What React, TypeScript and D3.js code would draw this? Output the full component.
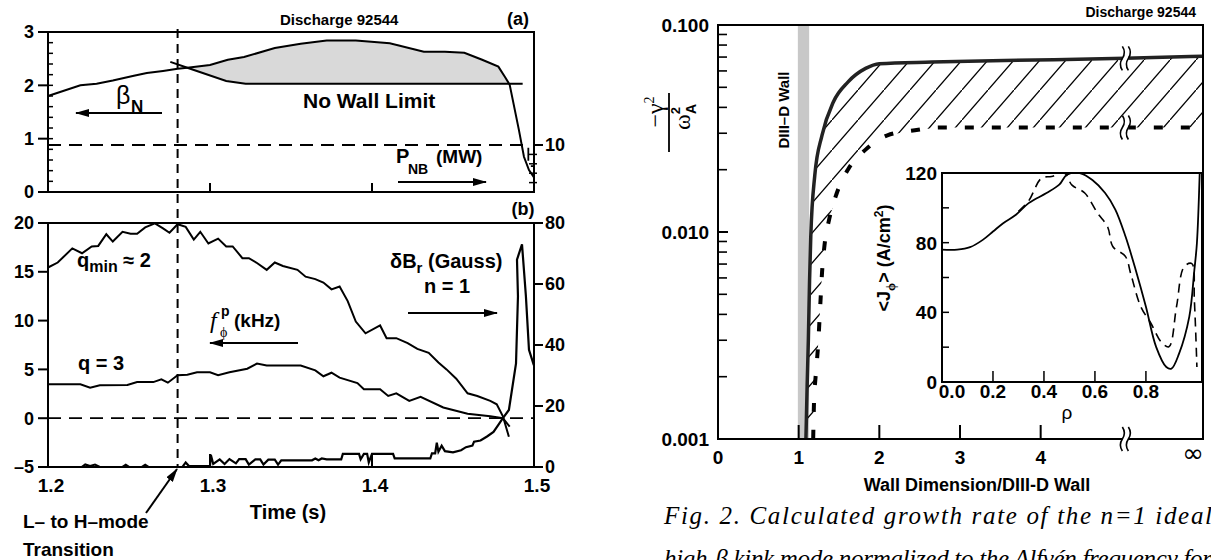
import React from "react";
import * as d3 from "d3";

const FONT = "'Liberation Sans Narrow', 'Arial Narrow', 'Liberation Sans', Arial, sans-serif";
const SERIF = "'Liberation Serif', 'Times New Roman', serif";

// ---------- left figure: discharge 92544 time traces ----------
const TIME_TICKS = [1.2, 1.3, 1.4, 1.5];
const BETA_TICKS = [0, 1, 2, 3];
const BETA_MINOR = d3.range(0, 3.01, 0.2);
const PNB_MINOR = [2, 4, 6, 8];
const F_TICKS = [-5, 0, 5, 10, 15, 20];
const DB_TICKS = [0, 20, 40, 60, 80];
const TRANSITION_T = 1.28;

const betaN: [number, number][] = [
  [1.2, 1.8], [1.22, 2.0], [1.23, 2.03], [1.24, 2.09], [1.253, 2.18], [1.261, 2.23],
  [1.271, 2.27], [1.28, 2.31], [1.286, 2.33], [1.3, 2.38], [1.311, 2.48], [1.321, 2.53],
  [1.34, 2.7], [1.356, 2.78], [1.372, 2.84], [1.39, 2.84], [1.411, 2.79], [1.432, 2.63],
  [1.445, 2.63], [1.457, 2.61], [1.468, 2.48], [1.478, 2.35], [1.482, 2.16], [1.485, 2.01],
  [1.4907, 1.16], [1.4938, 0.66], [1.4969, 0.41], [1.4999, 0.28],
];
const noWallLimit: [number, number][] = [
  [1.2755, 2.44], [1.286, 2.33], [1.31, 2.08], [1.322, 2.03], [1.493, 2.03],
];
const pnb: [number, number][] = [
  [1.2, 10], [1.4965, 10], [1.4965, 5.5], [1.5, 5.5],
];
const fPhi: [number, number][] = [
  [1.2, 15.44], [1.206, 15.95], [1.215, 17.4], [1.221, 16.9], [1.227, 17.6], [1.231, 17.65],
  [1.236, 18.85], [1.24, 18.1], [1.246, 19.1], [1.251, 18.9], [1.255, 18.9], [1.26, 19.55],
  [1.266, 19.97], [1.271, 19.45], [1.275, 19.0], [1.28, 19.87], [1.285, 19.6], [1.29, 18.3],
  [1.294, 19.1], [1.299, 17.9], [1.305, 18.4], [1.31, 17.6], [1.314, 17.6], [1.32, 16.4],
  [1.324, 16.4], [1.329, 15.9], [1.335, 15.2], [1.34, 15.95], [1.345, 15.6], [1.354, 15.2],
  [1.359, 14.5], [1.365, 14.25], [1.37, 13.9], [1.375, 13.2], [1.38, 13.5], [1.385, 12.0],
  [1.39, 9.9], [1.396, 8.7], [1.405, 9.5], [1.409, 8.2], [1.415, 8.2], [1.422, 7.7],
  [1.428, 7.1], [1.435, 6.7], [1.441, 5.7], [1.446, 5.0], [1.452, 4.05], [1.459, 2.55],
  [1.465, 2.28], [1.473, 1.77], [1.477, 1.43], [1.4808, 0.2], [1.4845, -1.9],
];
const qThree: [number, number][] = [
  [1.2, 3.47], [1.22, 3.47], [1.226, 3.13], [1.232, 3.37], [1.249, 3.4], [1.255, 3.7],
  [1.265, 3.7], [1.27, 3.98], [1.274, 3.64], [1.28, 4.4], [1.286, 4.46], [1.292, 4.7],
  [1.3, 4.7], [1.305, 4.4], [1.312, 4.7], [1.323, 5.07], [1.329, 5.6], [1.335, 5.4],
  [1.356, 5.4], [1.365, 4.9], [1.37, 4.3], [1.375, 4.66], [1.38, 4.15], [1.391, 3.6],
  [1.395, 2.96], [1.405, 2.96], [1.41, 2.28], [1.415, 2.55], [1.423, 1.77], [1.43, 2.2],
  [1.444, 1.1], [1.459, 0.45], [1.473, 0.2], [1.4808, 0.0], [1.485, -0.87],
];
const deltaBr: [number, number][] = [
  [1.2, 0], [1.221, 0], [1.223, 0.8], [1.226, 0.3], [1.229, 0.8], [1.232, 0], [1.246, 0],
  [1.248, 0.7], [1.25, 0], [1.258, 0], [1.26, 0.7], [1.262, 0], [1.283, 0], [1.285, 1.5],
  [1.287, 0.3], [1.3, 0.3], [1.3005, 4], [1.302, 1], [1.306, 2.5], [1.309, 1], [1.312, 2.6],
  [1.316, 1.2], [1.318, 2.6], [1.322, 2.6], [1.324, 0.8], [1.328, 2.5], [1.331, 2.5],
  [1.333, 0.8], [1.336, 2.4], [1.34, 2.4], [1.342, 0.8], [1.344, 2.2], [1.363, 2.2],
  [1.365, 2.8], [1.367, 2.2], [1.369, 2.8], [1.372, 2.5], [1.381, 2.5], [1.382, 4.3],
  [1.392, 4.3], [1.393, 2.5], [1.395, 4.3], [1.397, 4.3], [1.398, 1.5], [1.4, 4.3],
  [1.413, 4.3], [1.414, 2.8], [1.436, 2.8], [1.437, 4.5], [1.439, 4.5], [1.44, 8],
  [1.441, 5], [1.443, 7], [1.445, 5.2], [1.45, 4.8], [1.455, 5.5], [1.458, 6.5],
  [1.462, 7], [1.463, 8.3], [1.467, 8.7], [1.471, 10], [1.475, 11.5], [1.478, 13.8],
  [1.4808, 16], [1.4845, 18.7], [1.4889, 34], [1.4901, 56], [1.4895, 68], [1.4926, 73],
  [1.495, 56], [1.4969, 38.4], [1.4999, 33.4],
];

// ---------- right figure: growth rate vs wall position ----------
const WALL_TICKS = [0, 1, 2, 3, 4];
const WALL_INF = 6;
const WALL_BREAK = 5.05;
const GAMMA_TICKS = [0.001, 0.01, 0.1];
const GAMMA_LABELS = ["0.001", "0.010", "0.100"];
const DIIID_WALL = [0.99, 1.13];

const idealWall: [number, number][] = [
  [1.09, 0.001], [1.105, 0.0018], [1.12, 0.003], [1.135, 0.0058], [1.15, 0.0095],
  [1.2, 0.0188], [1.29, 0.0294], [1.43, 0.0425], [1.61, 0.053], [1.83, 0.0617],
  [2.0, 0.065], [2.65, 0.0662], [3.55, 0.0674], [5.05, 0.069], [6, 0.0707],
];
const noWall: [number, number][] = [
  [1.18, 0.001], [1.19, 0.0015], [1.21, 0.002], [1.24, 0.0028], [1.27, 0.0046],
  [1.29, 0.0064], [1.32, 0.0086], [1.38, 0.0116], [1.47, 0.0153], [1.61, 0.02],
  [1.83, 0.025], [2.1, 0.0293], [2.44, 0.031], [2.74, 0.032], [3.5, 0.032],
  [5.05, 0.032], [6, 0.032],
];

// inset: current density profile
const RHO_TICKS = [0, 0.2, 0.4, 0.6, 0.8];
const RHO_LABELS = ["0.0", "0.2", "0.4", "0.6", "0.8"];
const J_TICKS = [0, 40, 80, 120];
const J_MINOR = [20, 60, 100];
const jSolid: [number, number][] = [
  [0, 76], [0.06, 76], [0.11, 77.4], [0.16, 81.6], [0.2, 86.4], [0.24, 91.2], [0.29, 96],
  [0.34, 102.7], [0.41, 108.5], [0.46, 113.3], [0.49, 119], [0.54, 120], [0.59, 116],
  [0.64, 108.5], [0.68, 99], [0.72, 83.5], [0.76, 64.3], [0.8, 43.2], [0.84, 20.2],
  [0.88, 8.6], [0.9, 7.7], [0.93, 16.3], [0.97, 37.4], [0.99, 64.3], [1.0, 79.7], [1.012, 125],
];
const jDashed: [number, number][] = [
  [0.3, 98], [0.34, 104], [0.39, 117], [0.43, 118], [0.48, 120], [0.51, 113], [0.56, 108.5],
  [0.61, 97], [0.65, 89], [0.67, 77.8], [0.72, 72], [0.74, 62.4], [0.78, 43.2], [0.82, 33.6],
  [0.86, 23], [0.89, 20.2], [0.92, 43.2], [0.95, 66.2], [0.98, 68], [0.99, 47], [1.0, 8.6],
];

const xT = d3.scaleLinear().domain([1.2, 1.5]).range([48, 534]);
const yB = d3.scaleLinear().domain([0, 3]).range([192, 32]);
const yP = d3.scaleLinear().domain([0, 10]).range([192, 145]);
const yF = d3.scaleLinear().domain([-5, 20]).range([467, 223]);
const yD = d3.scaleLinear().domain([0, 80]).range([467, 223]);

const xW = d3.scaleLinear().domain([0, WALL_INF]).range([718, 1202]);
const yG = d3.scaleLog().domain([0.001, 0.1]).range([439, 25]);
const xR = d3.scaleLinear().domain([0, 1.02]).range([942, 1202]);
const yJ = d3.scaleLinear().domain([0, 120]).range([382, 173]);

function Break({ x, y }: { x: number; y: number }) {
  return (
    <g>
      <rect x={x - 3} y={y - 12} width={6} height={24} fill="#fff" />
      <path d={`M${x - 3},${y - 12} q4,6 0,12 q-4,6 0,12 M${x + 3},${y - 12} q4,6 0,12 q-4,6 0,12`} fill="none" stroke="#000" strokeWidth={1.6} />
    </g>
  );
}

export default function App() {
  const lineB = d3.line<[number, number]>().x((d) => xT(d[0])).y((d) => yB(d[1]));
  const lineP = d3.line<[number, number]>().x((d) => xT(d[0])).y((d) => yP(d[1]));
  const lineF = d3.line<[number, number]>().x((d) => xT(d[0])).y((d) => yF(d[1]));
  const lineD = d3.line<[number, number]>().x((d) => xT(d[0])).y((d) => yD(d[1]));
  const limitAt = d3.scaleLinear().domain(noWallLimit.map((d) => d[0])).range(noWallLimit.map((d) => d[1])).clamp(true);
  const shaded = betaN.filter((d) => d[0] >= 1.286 && d[0] <= 1.485);
  const areaB = d3.area<[number, number]>().x((d) => xT(d[0])).y1((d) => yB(d[1])).y0((d) => yB(limitAt(d[0])));

  const lineG = d3.line<[number, number]>().x((d) => xW(d[0])).y((d) => yG(d[1])).curve(d3.curveMonotoneX);
  const lineGlin = d3.line<[number, number]>().x((d) => xW(d[0])).y((d) => yG(d[1]));
  const hatchRegion = lineGlin(idealWall) + lineGlin(noWall.slice().reverse())!.replace(/^M/, "L") + "Z";
  const lineJ = d3.line<[number, number]>().x((d) => xR(d[0])).y((d) => yJ(d[1])).curve(d3.curveCatmullRom);

  const decadesMinor: number[] = [];
  [0.001, 0.01].forEach((dec) => d3.range(2, 10).forEach((m) => decadesMinor.push(dec * m)));

  const txt = { fontFamily: FONT, fontWeight: 700 as const, fill: "#000" };

  return (
    <svg width={1211} height={560} style={{ position: "absolute", left: 0, top: 0, background: "#fff" }}>
      <defs>
        <marker id="arr" viewBox="0 0 14 8" refX={13} refY={4} markerWidth={14} markerHeight={8} orient="auto" markerUnits="userSpaceOnUse">
          <path d="M0,0 L14,4 L0,8 Z" fill="#000" />
        </marker>
        <pattern id="hatch" patternUnits="userSpaceOnUse" width={26} height={30}>
          <path d="M-2,32.3 L28,-2.3" stroke="#000" strokeWidth={1.3} />
        </pattern>
        <clipPath id="plotR"><rect x={718} y={25} width={485} height={414} /></clipPath>
        <clipPath id="inset"><rect x={942} y={173} width={260} height={209} /></clipPath>
      </defs>

      {/* ===== panel (a) ===== */}
      <path d={areaB(shaded)!} fill="#d9d9d9" />
      <path d={lineB(noWallLimit)!} fill="none" stroke="#000" strokeWidth={2} />
      <path d={lineB(betaN)!} fill="none" stroke="#000" strokeWidth={2} />
      <path d={lineP(pnb)!} fill="none" stroke="#000" strokeWidth={1.8} strokeDasharray="13,8" />
      <rect x={48} y={32} width={486} height={160} fill="none" stroke="#000" strokeWidth={2} />
      {BETA_TICKS.map((v) => (
        <g key={"b" + v}>
          <line x1={38} x2={48} y1={yB(v)} y2={yB(v)} stroke="#000" strokeWidth={2} />
          <text x={34} y={yB(v)} dy="0.36em" textAnchor="end" fontSize={18} {...txt}>{v}</text>
        </g>
      ))}
      {BETA_MINOR.map((v) => (
        <line key={"bm" + v} x1={48} x2={53} y1={yB(v)} y2={yB(v)} stroke="#000" strokeWidth={1.5} />
      ))}
      {TIME_TICKS.slice(1, 3).map((v) => (
        <line key={"ta" + v} x1={xT(v)} x2={xT(v)} y1={192} y2={183} stroke="#000" strokeWidth={2} />
      ))}
      <line x1={534} x2={543} y1={yP(10)} y2={yP(10)} stroke="#000" strokeWidth={2} />
      {PNB_MINOR.map((v) => (
        <line key={"pm" + v} x1={529} x2={537} y1={yP(v)} y2={yP(v)} stroke="#000" strokeWidth={1.5} />
      ))}
      <text x={545} y={yP(10)} dy="0.36em" fontSize={18} {...txt}>10</text>
      <text x={280} y={25} fontSize={15} {...txt}>Discharge 92544</text>
      <text x={518} y={25} textAnchor="middle" fontSize={18} {...txt}>(a)</text>
      <text x={116} y={104} fontSize={25} fontFamily="'Liberation Sans', Arial, sans-serif" fill="#000">β</text>
      <text x={131} y={112} fontSize={17} {...txt}>N</text>
      <line x1={162} x2={76} y1={113} y2={113} stroke="#000" strokeWidth={2} markerEnd="url(#arr)" />
      <text x={303} y={108} fontSize={21} {...txt}>No Wall Limit</text>
      <text x={396} y={163} fontSize={20} {...txt}>P</text>
      <text x={408} y={174} fontSize={14} {...txt}>NB</text>
      <text x={436} y={163} fontSize={19} {...txt}>(MW)</text>
      <line x1={398} x2={486} y1={182} y2={182} stroke="#000" strokeWidth={2} markerEnd="url(#arr)" />

      {/* ===== panel (b) ===== */}
      <line x1={48} x2={534} y1={yF(0)} y2={yF(0)} stroke="#000" strokeWidth={1.8} strokeDasharray="13,8" />
      <path d={lineF(fPhi)!} fill="none" stroke="#000" strokeWidth={2} />
      <path d={lineF(qThree)!} fill="none" stroke="#000" strokeWidth={2} />
      <path d={lineD(deltaBr)!} fill="none" stroke="#000" strokeWidth={2.2} />
      <rect x={48} y={223} width={486} height={244} fill="none" stroke="#000" strokeWidth={2} />
      {F_TICKS.map((v) => (
        <g key={"f" + v}>
          <line x1={38} x2={48} y1={yF(v)} y2={yF(v)} stroke="#000" strokeWidth={2} />
          <text x={34} y={yF(v)} dy="0.36em" textAnchor="end" fontSize={18} {...txt}>{v < 0 ? "–" + Math.abs(v) : v}</text>
        </g>
      ))}
      {DB_TICKS.map((v) => (
        <g key={"d" + v}>
          <line x1={534} x2={543} y1={yD(v)} y2={yD(v)} stroke="#000" strokeWidth={2} />
          <text x={545} y={yD(v)} dy="0.36em" fontSize={18} {...txt}>{v}</text>
        </g>
      ))}
      {TIME_TICKS.map((v) => (
        <g key={"t" + v}>
          <line x1={xT(v)} x2={xT(v)} y1={467} y2={454} stroke="#000" strokeWidth={2} />
          <text x={xT(v) + 3} y={492} textAnchor="middle" fontSize={19} {...txt}>{v.toFixed(1)}</text>
        </g>
      ))}
      <line x1={xT(TRANSITION_T)} x2={xT(TRANSITION_T)} y1={29} y2={467} stroke="#000" strokeWidth={2} strokeDasharray="9,6" />
      <text x={523} y={215} textAnchor="middle" fontSize={18} {...txt}>(b)</text>
      <text x={77} y={267} fontSize={20} {...txt}>q<tspan dy={5} fontSize={16}>min</tspan><tspan dy={-5} fontSize={20}> ≈ 2</tspan></text>
      <text x={78} y={370} fontSize={20} {...txt}>q = 3</text>
      <text x={210} y={328} fontSize={24} fontFamily={SERIF} fontStyle="italic" fill="#000">f</text>
      <text x={221} y={316} fontSize={14} {...txt}>p</text>
      <text x={220} y={337} fontSize={14} fontFamily={SERIF} fill="#000">ϕ</text>
      <text x={234} y={327} fontSize={19} {...txt}>(kHz)</text>
      <line x1={298} x2={210} y1={343} y2={343} stroke="#000" strokeWidth={2} markerEnd="url(#arr)" />
      <text x={390} y={268} fontSize={20} {...txt}>δB<tspan dy={5} fontSize={15}>r</tspan><tspan dy={-5}> (Gauss)</tspan></text>
      <text x={447} y={293} textAnchor="middle" fontSize={20} {...txt}>n = 1</text>
      <line x1={408} x2={497} y1={313} y2={313} stroke="#000" strokeWidth={2} markerEnd="url(#arr)" />
      <text x={288} y={519} textAnchor="middle" fontSize={20} {...txt}>Time (s)</text>
      <text x={23} y={528} fontSize={19} {...txt}>L– to H–mode</text>
      <text x={23} y={556} fontSize={19} {...txt}>Transition</text>
      <line x1={146} x2={177} y1={513} y2={469} stroke="#000" strokeWidth={2} markerEnd="url(#arr)" />

      {/* ===== right figure ===== */}
      <rect x={xW(DIIID_WALL[0])} y={25} width={xW(DIIID_WALL[1]) - xW(DIIID_WALL[0])} height={414} fill="#c8c8c8" />
      <g clipPath="url(#plotR)">
        <path d={hatchRegion} fill="url(#hatch)" />
        <path d={lineG(noWall)!} fill="none" stroke="#000" strokeWidth={4} strokeDasharray="9,18" />
        <path d={lineG(idealWall)!} fill="none" stroke="#222" strokeWidth={3.5} />
      </g>
      <Break x={xW(WALL_BREAK)} y={yG(0.069)} />
      <Break x={xW(WALL_BREAK)} y={yG(0.032)} />
      <text transform={`translate(${xW(0.88)},110) rotate(-90)`} textAnchor="middle" fontSize={15} {...txt}>DIII–D Wall</text>

      {/* inset */}
      <rect x={942} y={173} width={260} height={209} fill="#fff" stroke="#000" strokeWidth={2} />
      <g clipPath="url(#inset)">
        <path d={lineJ(jDashed)!} fill="none" stroke="#000" strokeWidth={1.6} strokeDasharray="9,6" />
        <path d={lineJ(jSolid)!} fill="none" stroke="#000" strokeWidth={1.8} />
      </g>
      {J_TICKS.concat(J_MINOR).map((v) => (
        <line key={"j" + v} x1={942} x2={949} y1={yJ(v)} y2={yJ(v)} stroke="#000" strokeWidth={1.5} />
      ))}
      {J_TICKS.map((v) => (
        <text key={"jl" + v} x={937} y={yJ(v)} dy="0.36em" textAnchor="end" fontSize={19} {...txt}>{v}</text>
      ))}
      {RHO_TICKS.map((v, i) => (
        <g key={"r" + v}>
          {v > 0 && <line x1={xR(v)} x2={xR(v)} y1={382} y2={371} stroke="#000" strokeWidth={1.5} />}
          <text x={xR(v) + (v === 0 ? 10 : 0)} y={398} textAnchor="middle" fontSize={19} {...txt}>{RHO_LABELS[i]}</text>
        </g>
      ))}
      <text x={1067} y={419} textAnchor="middle" fontSize={19} fontFamily="'Liberation Sans', Arial, sans-serif" fill="#000">ρ</text>
      <text transform="translate(890,258) rotate(-90)" textAnchor="middle" fontSize={18} {...txt}>
        {"<J"}<tspan dy={5} fontSize={13} fontFamily={SERIF}>ϕ</tspan><tspan dy={-5}>{"> (A/cm"}</tspan><tspan dy={-7} fontSize={12}>2</tspan><tspan dy={7}>)</tspan>
      </text>

      {/* frame and axes */}
      <rect x={718} y={25} width={485} height={414} fill="none" stroke="#000" strokeWidth={2} />
      <Break x={xW(WALL_BREAK)} y={439} />
      {GAMMA_TICKS.map((v, i) => (
        <g key={"g" + v}>
          <line x1={718} x2={728} y1={yG(v)} y2={yG(v)} stroke="#000" strokeWidth={2} />
          <text x={709} y={yG(v)} dy="0.36em" textAnchor="end" fontSize={19} {...txt}>{GAMMA_LABELS[i]}</text>
        </g>
      ))}
      {decadesMinor.map((v) => (
        <line key={"gm" + v} x1={718} x2={727} y1={yG(v)} y2={yG(v)} stroke="#000" strokeWidth={1.6} />
      ))}
      {WALL_TICKS.map((v) => (
        <g key={"w" + v}>
          {v > 0 && <line x1={xW(v)} x2={xW(v)} y1={439} y2={425} stroke="#000" strokeWidth={2} />}
          <text x={xW(v)} y={464} textAnchor="middle" fontSize={19} {...txt}>{v}</text>
        </g>
      ))}
      <text x={1204} y={462} textAnchor="end" fontSize={26} fontFamily="'DejaVu Sans', sans-serif" fill="#000">∞</text>
      <text x={977} y={491} textAnchor="middle" fontSize={18} {...txt}>Wall Dimension/DIII-D Wall</text>
      <text x={1196} y={17} textAnchor="end" fontSize={14} {...txt}>Discharge 92544</text>

      {/* y-axis label: -gamma^2 / omega_A^2 */}
      <g transform="translate(669,122) rotate(-90)">
        <line x1={-30} x2={29} y1={0} y2={0} stroke="#000" strokeWidth={1.8} />
        <text x={10} y={-6} textAnchor="middle" fontSize={24} fontFamily={SERIF} fill="#000">−γ<tspan dy={-9} fontSize={14}>2</tspan></text>
        <text x={5} y={21} textAnchor="middle" fontSize={24} fontFamily={SERIF} fill="#000">ω<tspan dy={-10} fontSize={13} fontFamily={FONT} fontWeight={700}>2</tspan><tspan dx={-7} dy={16} fontSize={14} fontFamily={FONT} fontWeight={700}>A</tspan></text>
      </g>

      {/* caption */}
      <text x={664} y={524} fontSize={25} fontFamily={SERIF} fontStyle="italic" fill="#000" textLength={548} lengthAdjust="spacing">Fig. 2. Calculated growth rate of the n=1 ideal</text>
      <text x={664} y={567} fontSize={25} fontFamily={SERIF} fontStyle="italic" fill="#000" textLength={548} lengthAdjust="spacing">high-β kink mode normalized to the Alfvén frequency for</text>
    </svg>
  );
}
